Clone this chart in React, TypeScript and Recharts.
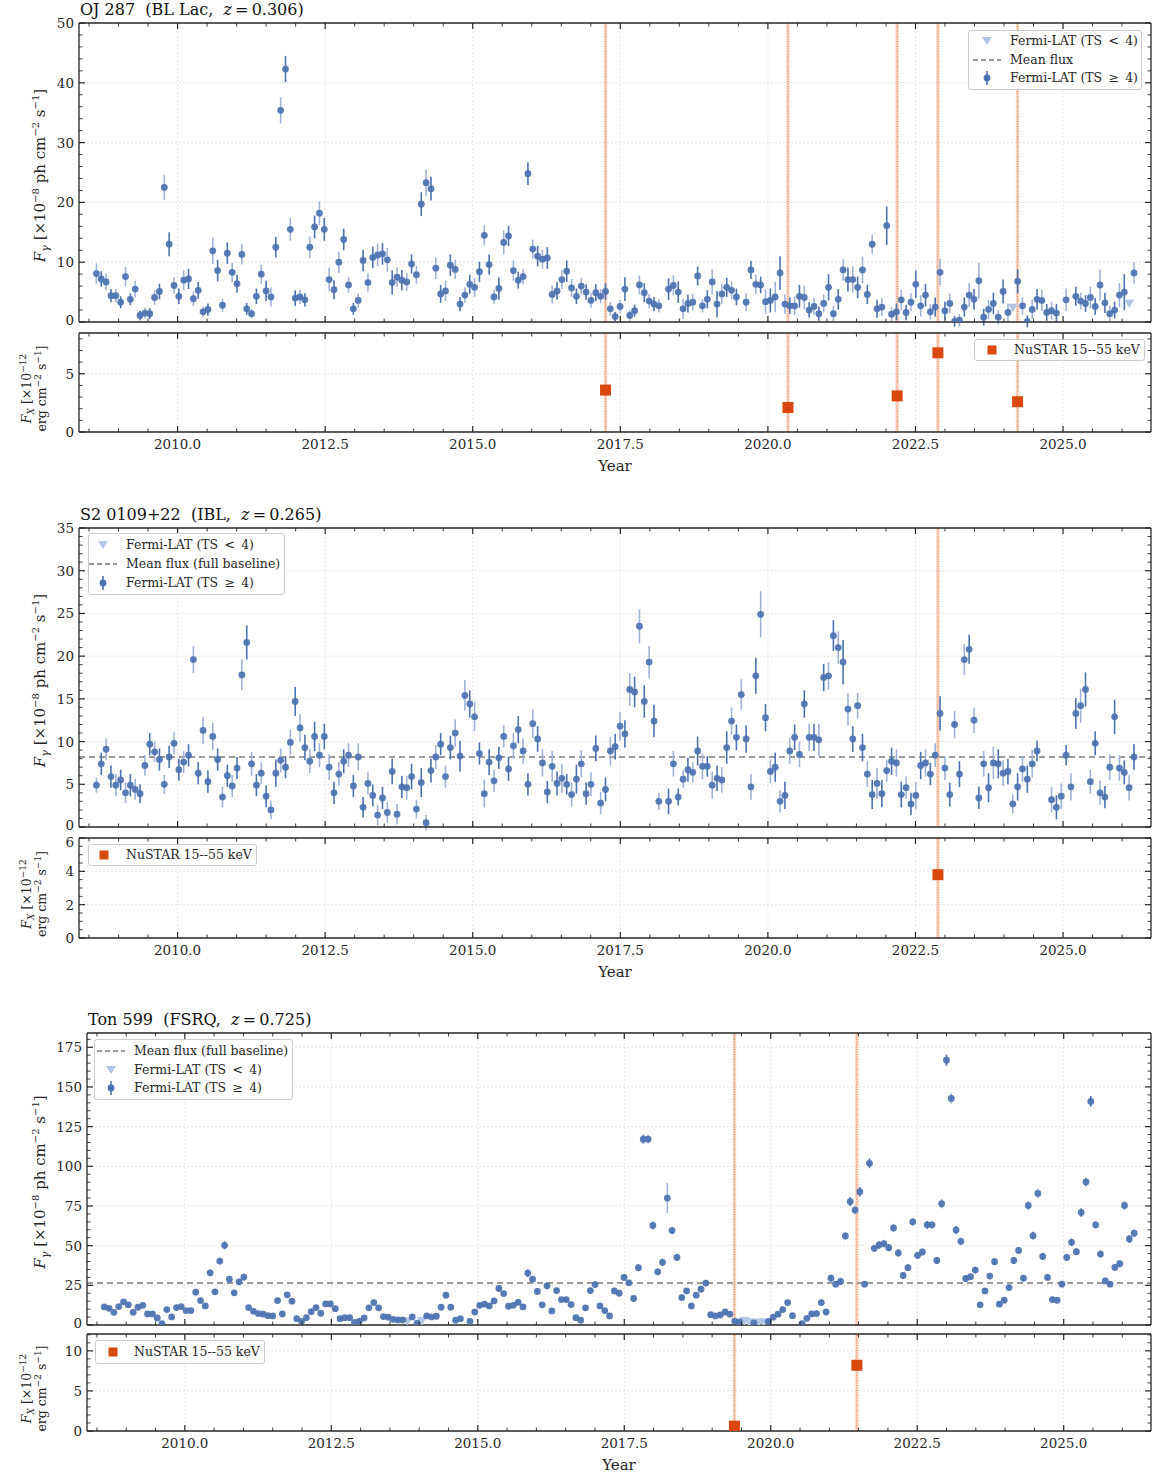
import React from 'react';
import { ScatterChart, Scatter, XAxis, YAxis, ErrorBar, ReferenceLine } from 'recharts';

const FONT = '"DejaVu Serif", serif';
const INK = '#262626';
const BLUE = '#4c72b0';
const BLUE_SOFT = '#9fb3d9';
const LIMIT = '#b3c6e7';
const NUSTAR = '#d9480f';
const BAND = '#f7b497';
const MEAN = '#7a7a7a';

// 30-day Fermi-LAT light-curve bins
const BIN_START = 2008.625;
const BIN_WIDTH = 30 / 365.25;

const YEAR_DOMAIN = [2008.33, 2026.49];
const YEAR_MAJOR = [2010, 2012.5, 2015, 2017.5, 2020, 2022.5, 2025];
const YEAR_MINOR = [
  2008.5, 2009, 2009.5, 2010.5, 2011, 2011.5, 2012, 2013, 2013.5, 2014, 2014.5,
  2015.5, 2016, 2016.5, 2017, 2018, 2018.5, 2019, 2019.5, 2020.5, 2021, 2021.5,
  2022, 2023, 2023.5, 2024, 2024.5, 2025.5, 2026,
];

// ---- OJ 287 ----
const OJ287_FLUX = [
  8.1, 7.2, 6.7, 4.4, 4.4, 3.3, 7.6, 3.8, 5.5, 1.1,
  1.5, 1.4, 4.1, 5.1, 22.5, 13.0, 6.1, 4.3, 7.0, 7.2,
  3.9, 5.3, 1.7, 2.1, 11.9, 8.6, 2.8, 11.5, 8.3, 6.4,
  11.3, 2.2, 1.4, 4.3, 8.0, 5.2, 4.2, 12.5, 35.4, 42.3,
  15.5, 4.0, 4.2, 3.7, 12.5, 15.9, 18.2, 15.5, 7.1, 5.4,
  10.0, 13.8, 6.2, 2.2, 3.6, 10.3, 6.6, 10.8, 11.2, 11.4,
  10.4, 6.6, 7.5, 7.0, 6.7, 9.7, 7.9, 19.7, 23.3, 22.3,
  9.0, 4.7, 5.2, 9.5, 8.8, 3.0, 4.5, 6.3, 5.8, 8.4,
  14.5, 9.6, 4.2, 5.6, 13.3, 14.4, 8.6, 7.0, 7.6, 24.8,
  12.2, 11.0, 10.5, 10.7, 4.6, 5.2, 7.1, 8.5, 5.7, 4.3,
  6.0, 5.0, 3.6, 4.9, 4.3, 5.1, 2.2, 0.9, 2.6, 5.5,
  1.1, 1.9, 6.2, 4.9, 3.5, 3.0, 2.7, null, 5.5, 6.1,
  5.0, 2.2, 3.1, 3.3, 7.7, 2.7, 3.8, 6.7, 3.0, 4.7,
  5.8, 5.3, 4.2, null, 3.3, 8.7, 6.3, 6.2, 3.4, 3.6,
  4.2, 8.2, 3.0, 2.7, 2.7, 4.3, 4.1, 2.0, 2.6, 1.4,
  3.1, 5.8, 1.4, 3.8, 8.7, 7.1, 7.1, 5.8, 8.7, 4.6,
  13.0, 2.2, 2.5, 16.1, 1.3, 1.7, 3.7, 1.6, 3.3, 6.3,
  2.7, 4.5, 1.7, 2.5, 8.3, 1.9, 3.1, 0.1, 0.3, 2.5,
  4.5, 3.8, 6.9, 0.8, 2.1, 3.1, 0.8, 5.1, 1.6, 2.4,
  6.8, 2.7, 0.1, 2.1, 3.8, 3.6, 1.6, 1.9, 1.5, null,
  3.7, null, 4.3, 3.5, 3.1, 4.1, 2.6, 6.2, 3.2, 1.4,
  2.0, 4.5, 5.0, 3.1, 8.2,
];
const OJ287_ERR = [
  1.7, 1.3, 1.4, 1.1, 1.1, 1.0, 1.6, 1.0, 1.4, 0.8,
  0.9, 0.9, 1.2, 1.3, 2.1, 2.0, 1.4, 1.3, 1.7, 1.7,
  1.2, 1.4, 0.9, 1.0, 2.2, 1.8, 1.1, 1.8, 1.6, 1.5,
  1.7, 1.0, 0.8, 1.3, 1.6, 1.7, 1.6, 1.7, 2.2, 2.2,
  1.9, 1.3, 1.2, 1.1, 1.8, 1.9, 2.0, 1.9, 2.0, 1.6,
  1.8, 1.8, 1.3, 1.0, 1.2, 1.8, 1.5, 1.8, 1.9, 1.8,
  2.0, 2.0, 1.6, 1.7, 1.5, 1.6, 1.5, 2.0, 2.2, 2.0,
  1.8, 1.5, 1.7, 1.8, 1.6, 1.2, 1.3, 1.6, 1.6, 1.7,
  1.7, 1.7, 1.2, 1.9, 2.0, 1.7, 1.7, 1.4, 1.3, 1.9,
  1.6, 1.7, 1.6, 1.8, 1.5, 1.5, 1.6, 1.8, 1.5, 1.3,
  1.4, 1.3, 1.2, 1.4, 1.2, 1.4, 1.1, 0.8, 1.1, 2.0,
  0.9, 1.0, 1.6, 1.6, 1.2, 1.2, 1.1, null, 1.8, 1.7,
  1.8, 1.7, 1.5, 1.4, 1.6, 1.1, 1.5, 2.1, 2.2, 1.7,
  1.6, 1.5, 1.4, null, 1.5, 1.5, 1.6, 1.4, 2.0, 2.0,
  2.5, 2.8, 1.6, 1.4, 1.6, 1.9, 2.0, 1.3, 1.4, 1.2,
  1.5, 2.2, 1.3, 1.7, 1.8, 2.0, 2.2, 1.8, 2.2, 1.6,
  1.6, 1.5, 1.5, 3.2, 1.2, 1.4, 1.7, 1.3, 1.5, 2.3,
  1.8, 1.9, 1.3, 1.6, 2.2, 1.5, 1.7, 0.9, 1.0, 1.6,
  2.0, 1.7, 3.0, 1.4, 1.6, 1.8, 1.2, 2.0, 1.5, 0,
  2.0, 1.5, 1.0, 1.6, 1.7, 1.8, 1.4, 1.5, 1.5, null,
  1.9, null, 1.6, 1.4, 1.4, 1.8, 1.4, 2.6, 1.7, 1.3,
  1.4, 2.0, 3.0, 0, 1.8,
];
const OJ287_LIMITS = [189, 213];
const OJ287_NUSTAR_T = [2017.25, 2020.34, 2022.19, 2022.88, 2024.23];
const OJ287_NUSTAR_F = [3.6, 2.1, 3.1, 6.8, 2.6];

// ---- S2 0109+22 ----
const S2_FLUX = [
  4.9, 7.4, 9.1, 5.9, 4.9, 5.5, 4.0, 4.9, 4.4, 3.9,
  7.2, 9.7, 8.8, 7.9, 5.0, 8.2, 9.8, 6.7, 7.6, 8.4,
  19.6, 6.3, 11.3, 5.3, 10.6, 7.9, 3.5, 6.0, 4.8, 6.9,
  17.8, 21.6, 7.4, 4.9, 6.3, 3.6, 2.0, 6.3, 7.8, 7.0,
  9.9, 14.7, 11.6, 9.3, 7.7, 10.6, 8.4, 10.6, 7.0, 4.0,
  6.2, 7.7, 8.4, 4.8, 8.2, 2.3, 5.1, 3.7, 1.4, 3.4,
  1.7, 6.5, 1.5, 4.7, 4.6, 5.9, 2.1, 5.2, 0.5, 6.6,
  8.2, 9.7, 5.9, 9.3, 11.0, 8.3, 15.4, 14.4, 12.9, 8.6,
  3.9, 7.6, 5.4, 8.1, 10.6, 6.8, 9.5, 11.4, 8.9, 5.0,
  12.1, 10.3, 7.5, 4.1, 7.1, 5.1, 5.7, 5.0, 3.8, 5.6,
  7.4, 3.9, 5.0, 9.2, 2.8, 4.4, 8.9, 9.4, 11.8, 10.9,
  16.1, 15.8, 23.5, 14.7, 19.3, 12.4, 3.0, null, 3.0, 7.4,
  3.5, 5.6, 6.7, 6.4, 8.9, 7.1, 7.1, 4.9, 5.7, 5.5,
  9.3, 12.4, 10.5, 15.5, 10.3, 4.7, 17.7, 24.9, 12.8, 6.5,
  7.0, 3.0, 3.7, 8.9, 10.5, 8.5, 14.4, 10.5, 10.5, 10.2,
  17.5, 17.7, 22.4, 21.0, 19.3, 13.8, 10.3, 14.2, 9.3, 6.2,
  3.8, 5.1, 3.9, 6.6, 7.7, 7.5, 3.8, 4.6, 2.7, 3.7,
  7.2, 7.5, 6.2, 8.4, 13.3, 6.9, 3.8, 12.0, 6.2, 19.6,
  20.8, 12.5, 3.4, 7.4, 4.6, 7.5, 7.4, 6.3, 6.5, 2.7,
  4.7, 6.8, 5.6, 7.4, 8.9, null, null, 3.2, 2.3, 3.6,
  8.4, 4.7, 13.3, 14.2, 16.1, 5.3, 9.8, 4.0, 3.5, 7.0,
  12.9, 6.9, 6.4, 4.6, 8.2,
];
const S2_ERR = [
  0.9, 1.3, 1.3, 1.3, 1.3, 1.2, 1.2, 1.3, 1.2, 1.1,
  1.2, 1.3, 1.2, 1.3, 1.1, 1.3, 1.3, 1.3, 1.3, 1.3,
  1.6, 1.3, 1.6, 1.3, 1.6, 1.3, 1.2, 1.3, 1.3, 1.3,
  1.8, 2.0, 1.4, 1.3, 1.3, 1.3, 1.1, 1.6, 1.4, 1.3,
  1.5, 1.7, 1.6, 1.5, 1.4, 1.7, 1.4, 1.5, 1.5, 1.3,
  1.4, 1.4, 1.4, 1.3, 1.6, 1.2, 1.3, 1.3, 1.2, 1.3,
  1.2, 1.5, 1.2, 1.3, 1.4, 1.5, 1.1, 1.7, 0.9, 1.4,
  1.4, 1.3, 1.3, 1.4, 1.6, 1.8, 1.8, 1.6, 1.7, 1.3,
  1.6, 1.5, 1.3, 1.3, 1.3, 1.4, 1.5, 1.6, 1.5, 1.3,
  1.7, 1.5, 1.6, 1.3, 1.8, 1.4, 1.7, 1.2, 1.4, 1.7,
  1.6, 1.3, 1.4, 1.5, 1.3, 1.4, 1.7, 1.5, 1.7, 1.6,
  1.9, 1.8, 2.0, 1.9, 1.9, 1.9, 1.0, null, 1.5, 1.5,
  1.0, 1.0, 1.4, 1.2, 1.7, 1.5, 1.2, 1.6, 1.5, 1.5,
  1.9, 1.6, 1.5, 1.8, 1.6, 1.5, 2.1, 2.7, 1.6, 1.4,
  1.7, 1.3, 1.6, 1.5, 1.5, 1.5, 1.6, 1.6, 1.6, 1.9,
  1.6, 1.6, 1.8, 1.9, 2.6, 1.9, 1.5, 1.5, 1.6, 1.5,
  1.7, 1.8, 1.6, 1.3, 1.6, 1.6, 1.5, 1.3, 1.3, 1.6,
  1.6, 1.6, 1.3, 1.4, 2.0, 1.4, 1.4, 1.6, 1.5, 1.8,
  1.7, 1.5, 1.3, 1.5, 1.7, 1.9, 1.7, 1.5, 1.5, 1.1,
  1.6, 1.5, 1.6, 1.6, 1.2, null, null, 1.5, 1.4, 1.5,
  1.2, 1.6, 1.8, 2.0, 2.0, 1.4, 1.4, 1.4, 1.3, 1.5,
  2.0, 1.5, 1.4, 1.5, 1.5,
];
const S2_LIMITS: number[] = [];
const S2_MEAN = 8.2;
const S2_NUSTAR_T = [2022.88];
const S2_NUSTAR_F = [3.8];

// ---- Ton 599 ----
const TON_FLUX = [
  11.4, 10.5, 8.0, 11.6, 14.6, 12.7, 8.0, 11.2, 12.4, 7.0,
  7.0, 4.4, 0.8, 9.7, 5.1, 11.0, 11.6, 9.1, 9.1, 20.7,
  15.4, 12.0, 32.9, 20.9, 40.3, 50.2, 28.9, 20.3, 27.2, 30.2,
  11.0, 8.6, 7.2, 6.8, 5.9, 5.7, 15.4, 7.0, 19.0, 15.0,
  4.0, 2.3, 4.6, 8.4, 11.0, 7.4, 13.3, 13.3, 10.3, 4.0,
  4.6, 4.6, 1.7, 2.5, 4.4, 10.8, 14.1, 10.8, 5.3, 4.9,
  3.6, 3.2, 3.2, 2.3, 5.1, 1.1, 2.5, 5.7, 5.1, 5.5,
  11.2, 18.8, 11.2, 3.0, 4.0, null, 2.3, 8.2, 12.4, 13.1,
  12.0, 15.2, 23.0, 19.8, 11.8, 12.4, 14.3, 11.4, 32.7, 28.9,
  21.1, 12.7, 24.7, 8.9, 21.7, 16.0, 16.0, 12.9, 4.6, 3.0,
  10.8, 21.7, 25.5, 12.0, 9.1, 5.7, 21.5, 20.0, 30.0, 26.6,
  16.7, 36.1, 117.1, 117.1, 62.7, 33.5, 39.5, 80.0, 59.5, 42.6,
  17.3, 21.5, 12.0, 18.8, 22.6, 26.4, 6.5, 5.7, 6.3, 8.2,
  6.8, 2.5, 1.9, 2.5, 1.7, 1.3, 1.5, 1.5, 2.3, 4.9,
  6.8, 9.7, 14.1, 5.9, null, 0.8, 4.2, 7.0, 7.2, 14.1,
  8.2, 29.5, 25.7, 27.4, 56.1, 77.8, 72.4, 84.0, 25.7, 101.9,
  48.3, 50.4, 51.3, 48.7, 61.2, 45.4, 31.2, 36.1, 65.0, 43.9,
  46.0, 63.1, 63.1, 40.7, 76.4, 166.9, 142.8, 59.9, 52.7, 29.3,
  30.4, 34.6, 12.7, 21.5, 30.8, 39.9, 13.1, 15.6, 23.6, 40.7,
  47.0, 29.5, 75.3, 56.3, 82.9, 43.2, 30.0, 16.0, 15.6, 25.7,
  42.6, 52.1, 46.2, 70.9, 90.1, 140.9, 63.1, 44.7, 27.8, 25.7,
  36.3, 38.6, 75.3, 54.2, 57.8,
];
const TON_ERR = [
  1.2, 1.2, 1.1, 1.3, 1.4, 1.3, 1.1, 1.3, 1.3, 1.0,
  1.0, 0.9, 0.6, 1.2, 1.0, 1.3, 1.3, 1.2, 1.2, 1.7,
  1.5, 1.4, 2.1, 1.7, 2.3, 2.5, 2.0, 1.7, 2.0, 2.1,
  1.3, 1.2, 1.1, 1.1, 1.0, 1.0, 1.5, 1.1, 1.7, 1.5,
  0.9, 0.8, 1.0, 1.2, 1.3, 1.1, 1.4, 1.4, 1.3, 0.9,
  1.0, 1.0, 0.7, 0.8, 1.0, 1.3, 1.4, 1.3, 1.0, 1.0,
  0.9, 0.9, 0.9, 0, 1.0, 0.7, 0, 1.1, 1.0, 1.1,
  1.3, 1.7, 1.3, 0.9, 1.0, null, 0.9, 1.2, 1.4, 1.5,
  1.4, 1.6, 2.0, 1.8, 1.4, 1.4, 1.5, 1.3, 2.3, 2.1,
  1.9, 1.4, 2.1, 1.2, 1.9, 1.6, 1.6, 1.5, 1.0, 0.9,
  1.3, 1.9, 2.0, 1.4, 1.2, 1.1, 1.9, 1.8, 2.1, 2.0,
  1.6, 2.4, 2.8, 2.8, 2.4, 2.2, 2.3, 9.5, 2.3, 2.3,
  1.7, 1.8, 1.4, 1.8, 2.0, 2.1, 1.1, 1.0, 1.1, 1.2,
  1.1, 0.8, 0.7, 0, 0, 0.6, 0, 0, 0.8, 1.0,
  1.1, 1.3, 1.5, 1.1, null, 0.6, 1.0, 1.2, 1.2, 1.5,
  1.3, 2.1, 2.0, 2.1, 2.6, 2.9, 2.8, 3.0, 2.0, 3.1,
  2.3, 2.4, 2.4, 2.3, 2.6, 2.3, 2.0, 2.1, 2.6, 2.2,
  2.3, 2.5, 2.5, 2.2, 2.9, 3.5, 3.3, 2.5, 2.4, 1.9,
  1.9, 2.0, 1.4, 1.8, 2.0, 2.2, 1.4, 1.5, 1.8, 2.2,
  2.3, 1.9, 2.8, 2.5, 2.9, 2.2, 1.9, 1.5, 1.5, 1.8,
  2.2, 2.4, 2.3, 2.7, 3.0, 3.4, 2.5, 2.2, 1.8, 1.7,
  2.1, 2.1, 2.8, 2.4, 2.5,
];
const TON_LIMITS = [63, 66, 133, 134, 136, 137];
const TON_MEAN = 26.4;
const TON_NUSTAR_T = [2019.38, 2021.47];
const TON_NUSTAR_F = [0.6, 8.2];

// axis ticks
const OJ287_Y_MAJOR = [0, 10, 20, 30, 40, 50];
const OJ287_Y_MINOR = [2, 4, 6, 8, 12, 14, 16, 18, 22, 24, 26, 28, 32, 34, 36, 38, 42, 44, 46, 48];
const S2_Y_MAJOR = [0, 5, 10, 15, 20, 25, 30, 35];
const S2_Y_MINOR = [1, 2, 3, 4, 6, 7, 8, 9, 11, 12, 13, 14, 16, 17, 18, 19, 21, 22, 23, 24, 26, 27, 28, 29, 31, 32, 33, 34];
const TON_Y_MAJOR = [0, 25, 50, 75, 100, 125, 150, 175];
const TON_Y_MINOR = [5, 10, 15, 20, 30, 35, 40, 45, 55, 60, 65, 70, 80, 85, 90, 95, 105, 110, 115, 120, 130, 135, 140, 145, 155, 160, 165, 170, 180];
const OJ287_X_MAJOR = [0, 5];
const OJ287_X_MINOR = [1, 2, 3, 4, 6, 7, 8];
const S2_X_MAJOR = [0, 2, 4, 6];
const S2_X_MINOR = [0.5, 1, 1.5, 2.5, 3, 3.5, 4.5, 5, 5.5];
const TON_X_MAJOR = [0, 5, 10];
const TON_X_MINOR = [1, 2, 3, 4, 6, 7, 8, 9, 11, 12];

type Row = { t: number; f: number; e: number };

const gammaRows = (flux: (number | null)[], err: (number | null)[], limits: number[]) => {
  const det: Row[] = [];
  const ul: Row[] = [];
  flux.forEach((f, i) => {
    if (f === null) return;
    const row = { t: BIN_START + i * BIN_WIDTH, f, e: err[i] ?? 0 };
    if (limits.includes(i)) ul.push(row);
    else det.push(row);
  });
  return { det, ul };
};

const xrayRows = (times: number[], flux: number[]) => times.map((t, i) => ({ t, f: flux[i] }));

const XTick = (props: any) => {
  const { x, y, payload, side, labels } = props;
  const v = payload.value;
  const major = YEAR_MAJOR.some((m) => Math.abs(m - v) < 1e-6);
  const len = major ? 6 : 3.5;
  const dir = side === 'bottom' ? -1 : 1;
  return (
    <g>
      <line x1={x} y1={y} x2={x} y2={y + dir * len} stroke={INK} strokeWidth={major ? 1.2 : 0.9} />
      {labels && major && (
        <text x={x} y={y + 17} textAnchor="middle" fontSize={13.5} fontFamily={FONT} fill={INK}>
          {v.toFixed(1)}
        </text>
      )}
    </g>
  );
};

const YTick = (props: any) => {
  const { x, y, payload, side, majors, domain, stacked } = props;
  const v = payload.value;
  const major = majors.some((m: number) => Math.abs(m - v) < 1e-6);
  const len = major ? 6 : 3.5;
  const dir = side === 'left' ? 1 : -1;
  // labels on the edge shared by the gamma and X-ray panels are nudged apart
  let shift = 0;
  if (stacked === 'upper' && v === domain[0]) shift = -2;
  if (stacked === 'lower' && v === domain[1]) shift = 4;
  return (
    <g>
      <line x1={x} y1={y} x2={x + dir * len} y2={y} stroke={INK} strokeWidth={major ? 1.2 : 0.9} />
      {side === 'left' && major && (
        <text x={x - 5} y={y + 5 + shift} textAnchor="end" fontSize={13.5} fontFamily={FONT} fill={INK}>
          {v}
        </text>
      )}
    </g>
  );
};

const SUP = { fontSize: 10 };

const GammaLabel = (props: any) => {
  const vb = props.viewBox ?? { x: 0, y: 0, width: 0, height: 0 };
  const cx = 45;
  const cy = vb.y + vb.height / 2 + 3;
  return (
    <text transform={`rotate(-90, ${cx}, ${cy})`} x={cx} y={cy} textAnchor="middle" fontFamily={FONT} fontSize={15} fill={INK}>
      <tspan fontStyle="italic">F</tspan>
      <tspan fontStyle="italic" fontSize={11} dy={4}>γ</tspan>
      <tspan dy={-4}> [×10</tspan>
      <tspan {...SUP} dy={-6}>−8</tspan>
      <tspan dy={6}> ph cm</tspan>
      <tspan {...SUP} dy={-6}>−2</tspan>
      <tspan dy={6}> s</tspan>
      <tspan {...SUP} dy={-6}>−1</tspan>
      <tspan dy={6}>]</tspan>
    </text>
  );
};

const XrayLabel = (props: any) => {
  const vb = props.viewBox ?? { x: 0, y: 0, width: 0, height: 0 };
  const cy = vb.y + vb.height / 2 + 6;
  const line = (cx: number, body: React.ReactNode) => (
    <text transform={`rotate(-90, ${cx}, ${cy})`} x={cx} y={cy} textAnchor="middle" fontFamily={FONT} fontSize={12.5} fill={INK}>
      {body}
    </text>
  );
  return (
    <g>
      {line(31, (
        <>
          <tspan fontStyle="italic">F</tspan>
          <tspan fontStyle="italic" fontSize={9} dy={3}>X</tspan>
          <tspan dy={-3}> [×10</tspan>
          <tspan fontSize={9} dy={-5}>−12</tspan>
        </>
      ))}
      {line(46, (
        <>
          <tspan>erg cm</tspan>
          <tspan fontSize={9} dy={-5}>−2</tspan>
          <tspan dy={5}> s</tspan>
          <tspan fontSize={9} dy={-5}>−1</tspan>
          <tspan dy={5}>]</tspan>
        </>
      ))}
    </g>
  );
};

const YearLabel = (props: any) => {
  const vb = props.viewBox ?? { x: 0, y: 0, width: 0, height: 0 };
  return (
    <text x={vb.x + vb.width / 2} y={vb.y + 39} textAnchor="middle" fontFamily={FONT} fontSize={15} fill={INK}>
      Year
    </text>
  );
};

type FrameOpts = {
  leftW: number;
  yDomain: number[];
  yMajor: number[];
  yMinor: number[];
  bottomH: number;
  xLabels: boolean;
  stacked: 'upper' | 'lower';
  yLabel: (p: any) => React.ReactElement;
};

const AXIS_LINE = { stroke: INK, strokeWidth: 1.3 };
const X_TICKS = [...YEAR_MAJOR, ...YEAR_MINOR];

// box frame: inward major/minor ticks on all four sides
const frameAxes = (o: FrameOpts) => {
  const yTicks = [...o.yMajor, ...o.yMinor];
  return [
    <XAxis key="xb" xAxisId="b" type="number" dataKey="t" domain={YEAR_DOMAIN} allowDataOverflow ticks={X_TICKS}
      interval={0} height={o.bottomH} tickSize={0} tickMargin={0} tickLine={false} axisLine={AXIS_LINE}
      tick={(p: any) => <XTick {...p} side="bottom" labels={o.xLabels} />}
      label={o.xLabels ? YearLabel : undefined} />,
    <XAxis key="xt" xAxisId="t" orientation="top" type="number" dataKey="t" domain={YEAR_DOMAIN} allowDataOverflow
      ticks={X_TICKS} interval={0} height={1} tickSize={0} tickMargin={0} tickLine={false} axisLine={AXIS_LINE}
      tick={(p: any) => <XTick {...p} side="top" labels={false} />} />,
    <YAxis key="yl" yAxisId="l" type="number" dataKey="f" domain={o.yDomain} allowDataOverflow ticks={yTicks}
      interval={0} width={o.leftW} tickSize={0} tickMargin={0} tickLine={false} axisLine={AXIS_LINE}
      tick={(p: any) => <YTick {...p} side="left" majors={o.yMajor} domain={o.yDomain} stacked={o.stacked} />}
      label={o.yLabel} />,
    <YAxis key="yr" yAxisId="r" orientation="right" type="number" domain={o.yDomain} allowDataOverflow ticks={yTicks}
      interval={0} width={1} tickSize={0} tickMargin={0} tickLine={false} axisLine={AXIS_LINE}
      tick={(p: any) => <YTick {...p} side="right" majors={o.yMajor} domain={o.yDomain} stacked={o.stacked} />} />,
  ];
};

const gridLines = (yMajor: number[], yDomain: number[]) => [
  ...YEAR_MAJOR.map((v) => (
    <ReferenceLine key={`gx${v}`} x={v} xAxisId="b" yAxisId="l" stroke="#dedede" strokeWidth={0.8} strokeDasharray="2 2" />
  )),
  ...yMajor
    .filter((v) => v > yDomain[0] && v < yDomain[1])
    .map((v) => (
      <ReferenceLine key={`gy${v}`} y={v} xAxisId="b" yAxisId="l" stroke="#dedede" strokeWidth={0.8} strokeDasharray="2 2" />
    )),
];

// NuSTAR pointings: soft band with a dotted core
const epochBands = (epochs: number[]) =>
  epochs.flatMap((t, k) => [
    <ReferenceLine key={`eb${k}`} x={t} xAxisId="b" yAxisId="l" stroke={BAND} strokeWidth={3.5} strokeOpacity={0.55} />,
    <ReferenceLine key={`ed${k}`} x={t} xAxisId="b" yAxisId="l" stroke="#e8703a" strokeWidth={0.9} strokeDasharray="1 1.5" />,
  ]);

const dot = (p: any) => <circle cx={p.cx} cy={p.cy} r={3.4} fill={BLUE} fillOpacity={0.92} />;
const tri = (p: any) => (
  <polygon points={`${p.cx - 5},${p.cy - 4} ${p.cx + 5},${p.cy - 4} ${p.cx},${p.cy + 4.5}`} fill={LIMIT} />
);
const square = (p: any) => <rect x={p.cx - 5.5} y={p.cy - 5.5} width={11} height={11} fill={NUSTAR} />;

type GammaProps = {
  top: number;
  height: number;
  leftW: number;
  yDomain: number[];
  yMajor: number[];
  yMinor: number[];
  flux: (number | null)[];
  err: (number | null)[];
  limits: number[];
  mean?: number;
  epochs: number[];
};

const GammaChart = (g: GammaProps) => {
  const { det, ul } = gammaRows(g.flux, g.err, g.limits);
  const even = det.filter((_, k) => k % 2 === 0);
  const odd = det.filter((_, k) => k % 2 === 1);
  return (
    <div style={{ position: 'absolute', left: 0, top: g.top }}>
      <ScatterChart width={1156} height={g.height} margin={{ top: 22, right: 4, bottom: 7, left: 0 }}>
        {frameAxes({ leftW: g.leftW, yDomain: g.yDomain, yMajor: g.yMajor, yMinor: g.yMinor, bottomH: 1, xLabels: false, stacked: 'upper', yLabel: GammaLabel })}
        {gridLines(g.yMajor, g.yDomain)}
        {epochBands(g.epochs)}
        {g.mean !== undefined && (
          <ReferenceLine y={g.mean} xAxisId="b" yAxisId="l" stroke={MEAN} strokeWidth={1.5} strokeDasharray="6 4" />
        )}
        <Scatter data={ul} xAxisId="b" yAxisId="l" dataKey="f" shape={tri} isAnimationActive={false} />
        <Scatter data={even} xAxisId="b" yAxisId="l" dataKey="f" shape={dot} isAnimationActive={false}>
          <ErrorBar dataKey="e" direction="y" width={0} stroke={BLUE_SOFT} strokeWidth={1.6} isAnimationActive={false} />
        </Scatter>
        <Scatter data={odd} xAxisId="b" yAxisId="l" dataKey="f" shape={dot} isAnimationActive={false}>
          <ErrorBar dataKey="e" direction="y" width={0} stroke={BLUE} strokeWidth={1.6} isAnimationActive={false} />
        </Scatter>
      </ScatterChart>
    </div>
  );
};

type XrayProps = {
  top: number;
  height: number;
  leftW: number;
  yDomain: number[];
  yMajor: number[];
  yMinor: number[];
  times: number[];
  flux: number[];
};

const XrayChart = (x: XrayProps) => (
  <div style={{ position: 'absolute', left: 0, top: x.top }}>
    <ScatterChart width={1156} height={x.height} margin={{ top: 7, right: 4, bottom: 0, left: 0 }}>
      {frameAxes({ leftW: x.leftW, yDomain: x.yDomain, yMajor: x.yMajor, yMinor: x.yMinor, bottomH: 48, xLabels: true, stacked: 'lower', yLabel: XrayLabel })}
      {gridLines(x.yMajor, x.yDomain)}
      {epochBands(x.times)}
      <Scatter data={xrayRows(x.times, x.flux)} xAxisId="b" yAxisId="l" dataKey="f" shape={square} isAnimationActive={false} />
    </ScatterChart>
  </div>
);

type LegendRow = { icon: 'limit' | 'mean' | 'point' | 'square'; text: string; cy: number };

const legendIcon = (kind: LegendRow['icon']) => {
  if (kind === 'limit') return <polygon points="10,4 20,4 15,12" fill={LIMIT} />;
  if (kind === 'mean') return <line x1={1} y1={8} x2={29} y2={8} stroke={MEAN} strokeWidth={1.5} strokeDasharray="5 3" />;
  if (kind === 'point')
    return (
      <g>
        <line x1={15} y1={1} x2={15} y2={15} stroke={BLUE} strokeWidth={1.6} />
        <circle cx={15} cy={8} r={3.4} fill={BLUE} />
      </g>
    );
  return <rect x={10.5} y={3.5} width={9} height={9} fill={NUSTAR} />;
};

const LegendBox = (l: { x: number; y: number; w: number; h: number; iconCx: number; textX: number; rows: LegendRow[] }) => (
  <div
    style={{
      position: 'absolute', left: l.x, top: l.y, width: l.w, height: l.h, boxSizing: 'border-box',
      border: '1px solid #cccccc', borderRadius: 3, background: 'rgba(255,255,255,0.85)',
    }}
  >
    {l.rows.map((r, k) => (
      <React.Fragment key={k}>
        <svg width={30} height={16} style={{ position: 'absolute', left: l.iconCx - 15, top: r.cy - 8 }}>
          {legendIcon(r.icon)}
        </svg>
        <div
          style={{
            position: 'absolute', left: l.textX, top: r.cy - 9, height: 18, lineHeight: '18px',
            fontSize: 12.5, fontFamily: FONT, color: INK, whiteSpace: 'pre',
          }}
        >
          {r.text}
        </div>
      </React.Fragment>
    ))}
  </div>
);

const Title = ({ left, top, name, cls, z }: { left: number; top: number; name: string; cls: string; z: string }) => (
  <div style={{ position: 'absolute', left, top, fontFamily: FONT, fontSize: 16, color: '#111', lineHeight: '20px', whiteSpace: 'pre' }}>
    {`${name}  (${cls},  `}
    <i>z</i>
    {`\u2009=\u2009${z})`}
  </div>
);

const TS_LOW = 'Fermi-LAT (TS\u2002<\u20024)';
const TS_HIGH = 'Fermi-LAT (TS\u2002\u2265\u20024)';
const NUSTAR_TEXT = 'NuSTAR 15--55 keV';

export default function App() {
  return (
    <div style={{ position: 'relative', width: 1156, height: 1478, background: '#fff', overflow: 'hidden' }}>
      <style>{'body{margin:0}'}</style>

      <Title left={80} top={0} name="OJ 287" cls="BL Lac" z="0.306" />
      <GammaChart top={0} height={330} leftW={79} yDomain={[0, 50]} yMajor={OJ287_Y_MAJOR} yMinor={OJ287_Y_MINOR}
        flux={OJ287_FLUX} err={OJ287_ERR} limits={OJ287_LIMITS} epochs={OJ287_NUSTAR_T} />
      <XrayChart top={325} height={155} leftW={79} yDomain={[0, 8.5]} yMajor={OJ287_X_MAJOR} yMinor={OJ287_X_MINOR}
        times={OJ287_NUSTAR_T} flux={OJ287_NUSTAR_F} />
      <LegendBox x={968} y={30} w={174} h={60} iconCx={18} textX={41}
        rows={[
          { icon: 'limit', text: TS_LOW, cy: 10 },
          { icon: 'mean', text: 'Mean flux', cy: 29 },
          { icon: 'point', text: TS_HIGH, cy: 47 },
        ]} />
      <LegendBox x={974} y={339} w={171} h={22} iconCx={17} textX={39}
        rows={[{ icon: 'square', text: NUSTAR_TEXT, cy: 10 }]} />

      <Title left={80} top={505} name="S2 0109+22" cls="IBL" z="0.265" />
      <GammaChart top={505} height={330} leftW={79} yDomain={[0, 35]} yMajor={S2_Y_MAJOR} yMinor={S2_Y_MINOR}
        flux={S2_FLUX} err={S2_ERR} limits={S2_LIMITS} mean={S2_MEAN} epochs={S2_NUSTAR_T} />
      <XrayChart top={830} height={156} leftW={79} yDomain={[0, 6]} yMajor={S2_X_MAJOR} yMinor={S2_X_MINOR}
        times={S2_NUSTAR_T} flux={S2_NUSTAR_F} />
      <LegendBox x={88} y={533} w={197} h={62} iconCx={14} textX={37}
        rows={[
          { icon: 'limit', text: TS_LOW, cy: 11 },
          { icon: 'mean', text: 'Mean flux (full baseline)', cy: 30 },
          { icon: 'point', text: TS_HIGH, cy: 49 },
        ]} />
      <LegendBox x={88} y={844} w={169} h={22} iconCx={15} textX={37}
        rows={[{ icon: 'square', text: NUSTAR_TEXT, cy: 10 }]} />

      <Title left={88} top={1010} name="Ton 599" cls="FSRQ" z="0.725" />
      <GammaChart top={1010} height={323} leftW={87} yDomain={[0, 184]} yMajor={TON_Y_MAJOR} yMinor={TON_Y_MINOR}
        flux={TON_FLUX} err={TON_ERR} limits={TON_LIMITS} mean={TON_MEAN} epochs={TON_NUSTAR_T} />
      <XrayChart top={1326} height={153} leftW={87} yDomain={[0, 12.1]} yMajor={TON_X_MAJOR} yMinor={TON_X_MINOR}
        times={TON_NUSTAR_T} flux={TON_NUSTAR_F} />
      <LegendBox x={94} y={1039} w={199} h={61} iconCx={16} textX={39}
        rows={[
          { icon: 'mean', text: 'Mean flux (full baseline)', cy: 11 },
          { icon: 'limit', text: TS_LOW, cy: 30 },
          { icon: 'point', text: TS_HIGH, cy: 48 },
        ]} />
      <LegendBox x={95} y={1340} w={170} h={24} iconCx={17} textX={38}
        rows={[{ icon: 'square', text: NUSTAR_TEXT, cy: 11 }]} />
    </div>
  );
}
